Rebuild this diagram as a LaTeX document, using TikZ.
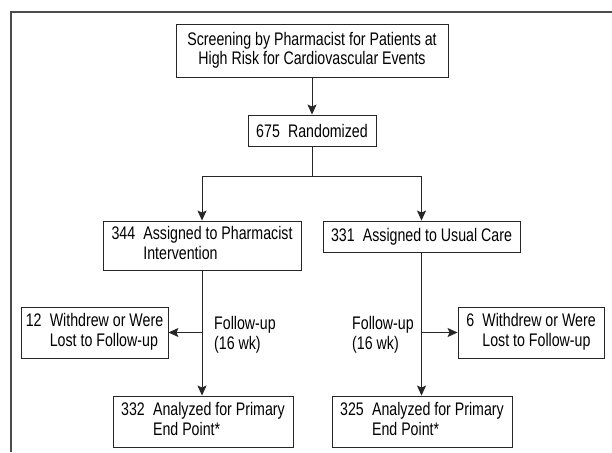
\documentclass[tikz,border=0pt]{standalone}
\usepackage{fontspec}
\setmainfont{Liberation Sans}[FakeStretch=0.78]
\usetikzlibrary{arrows.meta}
\begin{document}
\begin{tikzpicture}[x=1pt,y=-1pt,
  box/.style={draw=black!85, line width=0.9pt, inner sep=0pt, align=center,
    font=\fontsize{18.2}{19.5}\selectfont},
  conn/.style={draw=black!85, line width=0.9pt},
  arr/.style={conn, -{Stealth[length=10pt,width=9pt,inset=2pt]}},
  lbl/.style={inner sep=0pt, align=left, anchor=west,
    font=\fontsize{18.2}{19.5}\selectfont},
  frame/.style={draw=black!70, line width=1.4pt}]
\useasboundingbox (0,0) rectangle (612,452);
% frame
\coordinate (fl) at (11,452);
\coordinate (fc) at (11,12);
\coordinate (fr) at (612,12);
\draw[frame] (fl) -- (fc) -- (fr);
% nodes
\node[box, minimum width=272pt, minimum height=53pt] (screen) at (312,50.5)
  {Screening by Pharmacist for Patients at\\High Risk for Cardiovascular Events};
\node[box, minimum width=128pt, minimum height=31pt] (rand) at (312,130.5)
  {675\hspace{0.45em}Randomized};
\node[box, minimum width=198pt, minimum height=49pt] (int) at (202,245.5)
  {\begin{tabular}{@{}l@{\hspace{0.45em}}l@{}}344 & Assigned to Pharmacist\\ & Intervention\end{tabular}};
\node[box, minimum width=197pt, minimum height=31pt] (usual) at (421.5,236.5)
  {331\hspace{0.45em}Assigned to Usual Care};
\node[box, minimum width=147pt, minimum height=51pt] (wL) at (94.5,332.5)
  {\begin{tabular}{@{}l@{\hspace{0.45em}}l@{}}12 & Withdrew or Were\\ & Lost to Follow-up\end{tabular}};
\node[box, minimum width=146pt, minimum height=51pt] (wR) at (531,332.5)
  {\begin{tabular}{@{}l@{\hspace{0.45em}}l@{}}6 & Withdrew or Were\\ & Lost to Follow-up\end{tabular}};
\node[box, minimum width=180pt, minimum height=51pt] (aL) at (203,421.5)
  {\begin{tabular}{@{}l@{\hspace{0.45em}}l@{}}332 & Analyzed for Primary\\ & End Point*\end{tabular}};
\node[box, minimum width=180pt, minimum height=51pt] (aR) at (422,421.5)
  {\begin{tabular}{@{}l@{\hspace{0.45em}}l@{}}325 & Analyzed for Primary\\ & End Point*\end{tabular}};
\node[lbl] (fuL) at (214,335) {Follow-up\\(16 wk)};
\node[lbl] (fuR) at (352,335) {Follow-up\\(16 wk)};
% connectors
\coordinate (split) at (312,176);
\draw[arr] (screen.south) -- (rand.north);
\draw[conn] (rand.south) -- (split);
\draw[arr] (split) -| (int.north);
\draw[arr] (split) -| (usual.north);
\draw[arr] (int.south) -- (int.south |- aL.north);
\draw[arr] (usual.south) -- (usual.south |- aR.north);
\draw[arr] (int.south |- wL.east) -- (wL.east);
\draw[arr] (usual.south |- wR.west) -- (wR.west);
\end{tikzpicture}
\end{document}
